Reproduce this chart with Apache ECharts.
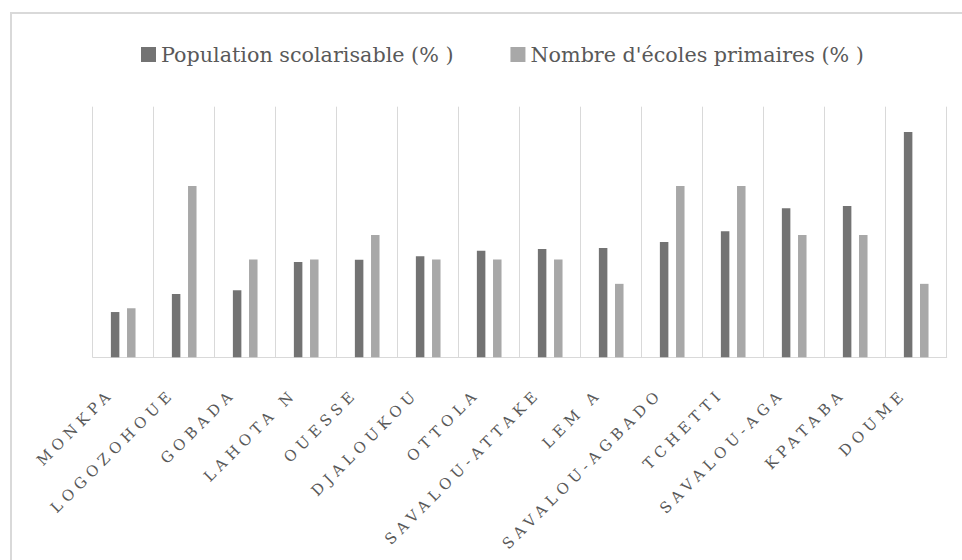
<!DOCTYPE html>
<html>
<head>
<meta charset="utf-8">
<script src="https://cdn.jsdelivr.net/npm/echarts@6/dist/echarts.min.js"></script>
<style>
html,body{margin:0;padding:0;background:#fff;}
#chart{width:962px;height:560px;}
#chart svg text[style*="15px"]{letter-spacing:5px;}
</style>
</head>
<body>
<div id="chart"></div>
<script>
const categories = ["MONKPA","LOGOZOHOUE","GOBADA","LAHOTA N","OUESSE","DJALOUKOU","OTTOLA","SAVALOU-ATTAKE","LEM A","SAVALOU-AGBADO","TCHETTI","SAVALOU-AGA","KPATABA","DOUME"];
const populationScolarisable = [2.89,4.04,4.28,6.09,6.23,6.45,6.81,6.92,6.98,7.36,8.05,9.51,9.66,14.39];
const ecolesPrimaires = [3.13,10.94,6.25,6.25,7.81,6.25,6.25,6.25,4.69,10.94,10.94,7.81,7.81,4.69];
const seriesNames = ["Population scolarisable (% )","Nombre d'écoles primaires (% )"];

const chart = echarts.init(document.getElementById('chart'), null, {renderer:'svg'});
chart.setOption({
  animation:false,
  backgroundColor:'#fff',
  textStyle:{fontFamily:'DejaVu Serif'},
  graphic:[{type:'rect',shape:{x:11,y:13,width:1000,height:600},style:{fill:'none',stroke:'#d9d9d9',lineWidth:2},silent:true}],
  legend:{
    left:136, top:39, itemWidth:15, itemHeight:15, itemGap:57,
    icon:'rect',
    textStyle:{fontSize:20.7,color:'#595959',fontFamily:'DejaVu Serif'},
    data:seriesNames
  },
  grid:{left:92.7,right:15.3,top:106.7,bottom:202.7,containLabel:false},
  xAxis:{
    type:'category',data:categories,boundaryGap:true,
    axisLine:{lineStyle:{color:'#d9d9d9',width:1}},
    axisTick:{show:false},
    splitLine:{show:true,interval:0,lineStyle:{color:'#d9d9d9',width:1}},
    axisLabel:{interval:0,rotate:45,margin:22,padding:[0,17,0,0],color:'#595959',fontSize:15,fontFamily:'DejaVu Serif'}
  },
  yAxis:{type:'value',min:0,max:16,show:false,splitLine:{show:false}},
  series:[
    {name:seriesNames[0],type:'bar',data:populationScolarisable,barWidth:8.5,barGap:'90%',itemStyle:{color:'#737373'}},
    {name:seriesNames[1],type:'bar',data:ecolesPrimaires,barWidth:8.5,itemStyle:{color:'#a8a8a8'}}
  ]
});
</script>
</body>
</html>
